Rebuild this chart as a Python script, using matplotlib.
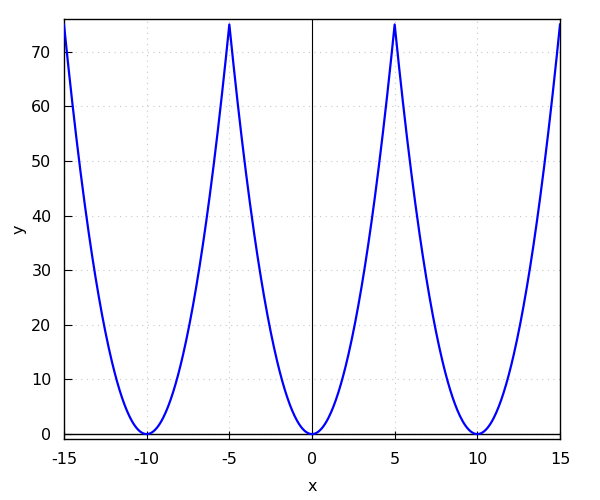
import numpy as np
import matplotlib
matplotlib.use("Agg")
import matplotlib.pyplot as plt

# Periodic parabola: y = coef * u^2 with u = x wrapped into [-half_period, half_period]
coef = 3.0
period = 10.0
x_min, x_max = -15.0, 15.0
x = np.linspace(x_min, x_max, 601)
u = np.mod(x + period / 2, period) - period / 2
y = coef * u ** 2

xticks = [-15, -10, -5, 0, 5, 10, 15]
yticks = [0, 10, 20, 30, 40, 50, 60, 70]

fig = plt.figure(figsize=(6, 5), dpi=100)
ax = fig.add_axes([64/600, 1-439/500, (560-64)/600, (439-19)/500])
ax.plot(x, y, color='#0000ff', lw=1.6, zorder=3)
ax.axhline(0, color='black', lw=1, zorder=2)
ax.axvline(0, color='black', lw=0.8, zorder=2)
ax.set_xlim(x_min, x_max)
ax.set_ylim(-0.9, 76)
ax.set_xticks(xticks)
ax.set_yticks(yticks)
ax.set_xticklabels([str(t) for t in xticks])
ax.set_yticklabels([str(t) for t in yticks])
ax.tick_params(direction='in', length=6, labelsize=11.5, top=False, right=False, pad=9)
ax.grid(True, color='#c8c8c8', linestyle=(0, (1, 4)), lw=0.8)
ax.set_axisbelow(True)
for s in ax.spines.values():
    s.set_linewidth(1)
ax.set_xlabel('x', fontsize=11.5, labelpad=9)
ax.set_ylabel('y', fontsize=11.5, labelpad=3)
fig.savefig('out.png', dpi=100)
